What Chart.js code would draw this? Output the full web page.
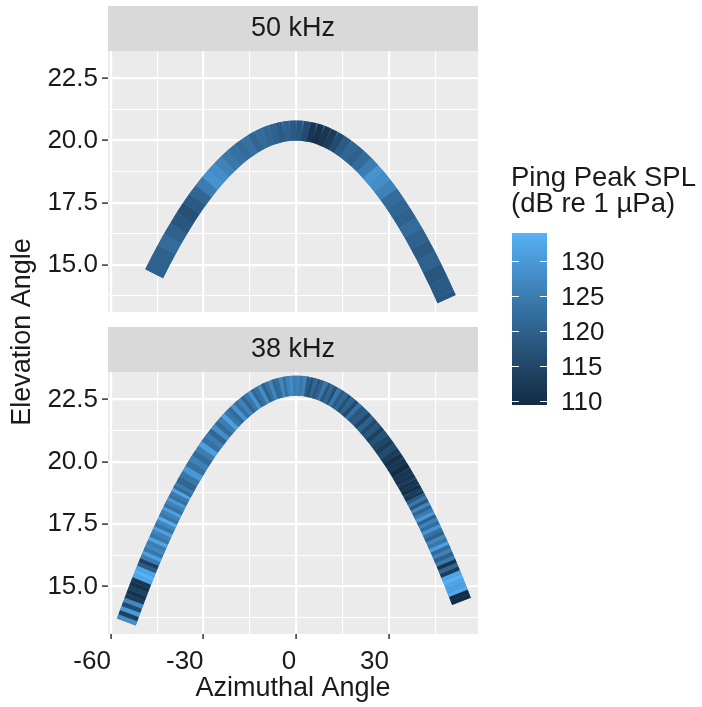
<!DOCTYPE html>
<html>
<head>
<meta charset="utf-8">
<title>Ping Peak SPL</title>
<script src="https://cdn.jsdelivr.net/npm/chart.js@4.4.1/dist/chart.umd.min.js"></script>
<style>
  html, body { margin: 0; padding: 0; background: #ffffff; }
  #wrap { position: relative; width: 702px; height: 707px; }
  #wrap canvas { position: absolute; left: 0; top: 0; }
</style>
</head>
<body>
<div id="wrap">
  <canvas id="panel50" width="702" height="707"></canvas>
  <canvas id="panel38" width="702" height="707"></canvas>
</div>
<script>
// 50 kHz track: azimuth (deg), elevation (deg), peak SPL of the segment starting at each point
const azimuth50 = [-46, -44, -42, -40, -38, -36, -34, -32, -30, -28, -26, -24, -22, -20, -18, -16, -14, -12, -10, -8, -6, -4, -2,
  0, 2, 4, 6, 8, 10, 12, 14, 16, 18, 20, 22, 24, 26, 28, 30, 32, 34, 36, 38, 40, 42, 44, 46, 48, 48.7];
const elevation50 = [14.64, 15.13, 15.60, 16.05, 16.47, 16.88, 17.26, 17.62, 17.95, 18.27, 18.56, 18.83, 19.08, 19.31, 19.52,
  19.70, 19.87, 20.01, 20.13, 20.23, 20.30, 20.36, 20.39, 20.40, 20.39, 20.35, 20.30, 20.22, 20.11, 19.99, 19.84, 19.67,
  19.47, 19.26, 19.02, 18.75, 18.47, 18.16, 17.83, 17.47, 17.09, 16.69, 16.27, 15.82, 15.36, 14.86, 14.35, 13.81, 13.62];
const spl50 = [120, 120, 122, 120, 118, 117, 119, 121, 125, 129, 128, 126, 124, 123, 122, 123, 121, 122, 121, 120,
  119, 120, 119, 118, 116, 112, 111, 112, 113, 116, 119, 121, 120, 122, 125, 129, 128, 126, 122, 121,
  120, 122, 120, 119, 120, 118, 119, 118, 118];

// 38 kHz track
const azimuth38 = [-55, -54.5, -54, -53.5, -53, -52.5, -52, -51.5, -51, -50.5, -50, -49.5, -49, -48.5, -48, -47.5, -47,
  -46.5, -46, -45.5, -45, -44.5, -44, -43.5, -43, -42.5, -42, -41.5, -41, -40.5, -40, -39.5, -39, -38.5, -38, -37.5,
  -37, -36.5, -36,
  -35, -34, -33, -32, -31, -30, -29, -28, -27, -26, -25, -24, -23, -22, -21, -20, -19, -18, -17, -16, -15, -14, -13,
  -12, -11, -10, -9, -8, -7, -6, -5, -4, -3, -2, -1, 0, 1, 2, 3, 4, 5, 6, 7, 8, 9, 10, 11, 12, 13, 14, 15, 16, 17, 18,
  19, 20, 21, 22, 23, 24, 25, 26, 27, 28, 29, 30, 31, 32, 33, 34, 35,
  35.5, 36, 36.5, 37, 37.5, 38, 38.5, 39, 39.5, 40, 40.5, 41, 41.5, 42, 42.5, 43, 43.5, 44, 44.5, 45, 45.5, 46, 46.5,
  47, 47.5, 48, 48.5, 49, 49.5, 50, 50.5, 51, 51.5, 52, 52.5, 53, 53.5];
const elevation38 = [13.58, 13.75, 13.92, 14.09, 14.26, 14.42, 14.59, 14.75, 14.91, 15.07, 15.23, 15.38, 15.53, 15.69,
  15.84, 15.99, 16.14, 16.28, 16.43, 16.57, 16.71, 16.85, 16.99, 17.13, 17.26, 17.40, 17.53, 17.66, 17.79, 17.92, 18.04,
  18.17, 18.29, 18.41, 18.53, 18.65, 18.77, 18.88, 18.99,
  19.22, 19.43, 19.64, 19.85, 20.04, 20.23, 20.42, 20.60, 20.77, 20.93, 21.09, 21.25, 21.39, 21.54, 21.67, 21.80, 21.92,
  22.04, 22.15, 22.25, 22.35, 22.44, 22.52, 22.60, 22.67, 22.74, 22.80, 22.85, 22.90, 22.94, 22.97, 23.00, 23.02, 23.04,
  23.05, 23.05, 23.05, 23.04, 23.02, 23.00, 22.97, 22.94, 22.90, 22.86, 22.81, 22.75, 22.68, 22.62, 22.54, 22.46, 22.37,
  22.28, 22.18, 22.07, 21.96, 21.84, 21.72, 21.59, 21.45, 21.31, 21.16, 21.01, 20.85, 20.68, 20.51, 20.33, 20.15, 19.96,
  19.76, 19.56, 19.35,
  19.24, 19.14, 19.03, 18.92, 18.80, 18.69, 18.57, 18.46, 18.34, 18.22, 18.10, 17.97, 17.85, 17.72, 17.60, 17.47, 17.34,
  17.20, 17.07, 16.93, 16.80, 16.66, 16.52, 16.38, 16.24, 16.09, 15.95, 15.80, 15.65, 15.50, 15.35, 15.20, 15.04, 14.88,
  14.73, 14.57, 14.41];
const spl38 = [128, 114, 130, 116, 127, 113, 111, 114, 111, 112, 132, 134, 132, 119, 114, 125, 131, 124, 127, 125,
  132, 124, 126, 131, 124, 127, 133, 124, 126, 131, 123, 126, 130, 123, 125, 132, 122, 125, 121,
  124, 130, 123, 126, 122, 125, 131, 123, 125, 121, 128, 122, 125, 131, 124, 122, 129, 123, 126, 121,
  124, 129, 121, 123, 128, 120, 123, 127, 121, 122, 127, 123, 126, 128, 125, 126,
  124, 126, 119, 117, 121, 118, 120, 124, 118, 121, 117, 124, 119, 121, 117, 120, 116, 123, 118, 119,
  115, 120, 116, 118, 114, 117, 115, 113, 116, 113, 111, 112, 110, 112, 111,
  113, 111, 112, 110, 113, 112, 119, 124, 118, 127, 121, 125, 130, 120, 126, 122, 129, 123, 120, 127,
  124, 131, 122, 126, 120, 125, 112, 121, 113, 132, 134, 132, 131, 133, 110, 109.5, 109.5];

// axis breaks: gridlines at every value, labels on the major ones
const xBreaks = [-60, -45, -30, -15, 0, 15, 30, 45];
const xMajor = [-60, -30, 0, 30];
const yBreaks = [13.75, 15, 16.25, 17.5, 18.75, 20, 21.25, 22.5];
const yMajor = [15, 17.5, 20, 22.5];
const legendBreaks = [110, 115, 120, 125, 130];
const panelNames = ['50 kHz', '38 kHz'];

const FONT = '"Liberation Sans", Arial, sans-serif';
const INK = '#1a1a1a';

// colour scale: #132B43 -> #56B1F7, interpolated in CIELAB like ggplot
function toLinear(c) {
  c /= 255;
  return c <= 0.04045 ? c / 12.92 : Math.pow((c + 0.055) / 1.055, 2.4);
}
function fromLinear(c) {
  c = c <= 0.0031308 ? 12.92 * c : 1.055 * Math.pow(c, 1 / 2.4) - 0.055;
  return Math.round(Math.max(0, Math.min(1, c)) * 255);
}
function rgbToLab(rgb) {
  const [r, g, b] = rgb.map(toLinear);
  const x = (0.4124564 * r + 0.3575761 * g + 0.1804375 * b) / 0.95047;
  const y = 0.2126729 * r + 0.7151522 * g + 0.0721750 * b;
  const z = (0.0193339 * r + 0.1191920 * g + 0.9503041 * b) / 1.08883;
  const f = t => t > 216 / 24389 ? Math.cbrt(t) : (24389 / 27 * t + 16) / 116;
  const fx = f(x), fy = f(y), fz = f(z);
  return [116 * fy - 16, 500 * (fx - fy), 200 * (fy - fz)];
}
function labToRgb(lab) {
  const fy = (lab[0] + 16) / 116, fx = fy + lab[1] / 500, fz = fy - lab[2] / 200;
  const inv = t => t * t * t > 216 / 24389 ? t * t * t : (116 * t - 16) / (24389 / 27);
  const x = inv(fx) * 0.95047, y = inv(fy), z = inv(fz) * 1.08883;
  const r = 3.2404542 * x - 1.5371385 * y - 0.4985314 * z;
  const g = -0.9692660 * x + 1.8760108 * y + 0.0415560 * z;
  const b = 0.0556434 * x - 0.2040259 * y + 1.0572252 * z;
  return [r, g, b].map(fromLinear);
}
const lowLab = rgbToLab([19, 43, 67]);
const highLab = rgbToLab([86, 177, 247]);
const allSpl = spl50.concat(spl38);
const splMin = Math.min(...allSpl);
const splMax = Math.max(...allSpl);

function splColour(v) {
  const t = (v - splMin) / (splMax - splMin);
  const rgb = labToRgb(lowLab.map((c, i) => c + (highLab[i] - c) * t));
  return 'rgb(' + rgb.join(',') + ')';
}

// grey panel background + facet strip
const facetPanel = {
  id: 'facetPanel',
  beforeDraw(chart, args, opts) {
    const { ctx, chartArea: a } = chart;
    ctx.save();
    ctx.fillStyle = '#ebebeb';
    ctx.fillRect(a.left, a.top, a.right - a.left, a.bottom - a.top);
    ctx.fillStyle = '#d9d9d9';
    ctx.fillRect(a.left, a.top - 45, a.right - a.left, 45);
    ctx.fillStyle = INK;
    ctx.font = '27px ' + FONT;
    ctx.textAlign = 'center';
    ctx.textBaseline = 'middle';
    ctx.fillText(opts.label, (a.left + a.right) / 2, a.top - 22);
    ctx.restore();
  }
};

// continuous colour bar legend
const colourBar = {
  id: 'colourBar',
  afterDraw(chart) {
    const ctx = chart.ctx;
    const left = 512, top = 233, w = 35, h = 172;
    ctx.save();
    for (let i = 0; i < h; i++) {
      ctx.fillStyle = splColour(splMax - (i + 0.5) / h * (splMax - splMin));
      ctx.fillRect(left, top + i, w, 1);
    }
    ctx.strokeStyle = '#ffffff';
    ctx.lineWidth = 1;
    ctx.fillStyle = INK;
    ctx.font = '26px ' + FONT;
    ctx.textAlign = 'left';
    ctx.textBaseline = 'middle';
    legendBreaks.forEach(v => {
      const y = Math.round(top + (splMax - v) / (splMax - splMin) * h) + 0.5;
      ctx.beginPath();
      ctx.moveTo(left, y); ctx.lineTo(left + 7, y);
      ctx.moveTo(left + w - 7, y); ctx.lineTo(left + w, y);
      ctx.stroke();
      ctx.fillText(String(v), 561, y + 1);
    });
    ctx.font = '27.5px ' + FONT;
    ctx.textBaseline = 'alphabetic';
    ctx.fillText('Ping Peak SPL', 511, 186);
    ctx.fillText('(dB re 1 \u00b5Pa)', 511, 212);
    ctx.restore();
  }
};

// shared y title across both facets
const yTitle = {
  id: 'yTitle',
  afterDraw(chart) {
    const ctx = chart.ctx;
    ctx.save();
    ctx.translate(23, 332);
    ctx.rotate(-Math.PI / 2);
    ctx.fillStyle = INK;
    ctx.font = '27px ' + FONT;
    ctx.textAlign = 'center';
    ctx.textBaseline = 'middle';
    ctx.fillText('Elevation Angle', 0, 0);
    ctx.restore();
  }
};

function facetChart(id, azimuth, elevation, spl, name, bottom, padding, plugins) {
  const isMajorX = c => c.tick && xMajor.includes(c.tick.value);
  const isMajorY = c => c.tick && yMajor.includes(c.tick.value);
  const points = azimuth.map((x, i) => ({ x: x, y: elevation[i] }));
  const track = {
    borderWidth: 20,
    borderCapStyle: 'butt',
    borderJoinStyle: 'miter',
    pointRadius: 0,
    tension: 0,
    fill: false,
  };
  return new Chart(id, {
    type: 'line',
    data: {
      datasets: [
        // coloured segments, one per ping
        Object.assign({
          data: points,
          borderColor: splColour(spl[0]),
          segment: { borderColor: c => splColour(spl[c.p0DataIndex]) },
        }, track),
        // plain stroke underneath so the joints on the bend don't open up
        Object.assign({ data: points, borderColor: splColour(126) }, track),
      ],
    },
    options: {
      responsive: false,
      animation: false,
      devicePixelRatio: 1,
      layout: { padding: padding },
      plugins: {
        legend: { display: false },
        tooltip: { enabled: false },
        facetPanel: { label: name },
      },
      scales: {
        x: {
          type: 'linear',
          min: -60.95,
          max: 58.86,
          afterBuildTicks: s => { s.ticks = xBreaks.map(v => ({ value: v })); },
          afterFit: s => { s.height = bottom ? 73 : 0; },
          border: { display: false },
          grid: {
            color: '#ffffff',
            lineWidth: c => isMajorX(c) ? 2.2 : 1.1,
            drawTicks: bottom,
            tickLength: 5,
            tickWidth: 1.5,
            tickColor: c => isMajorX(c) ? '#333333' : 'rgba(0,0,0,0)',
          },
          ticks: {
            display: bottom,
            autoSkip: false,
            maxRotation: 0,
            align: 'end',
            padding: 7,
            color: INK,
            font: { family: FONT, size: 26 },
            callback: v => xMajor.includes(v) ? String(v) : '',
          },
          title: {
            display: bottom,
            text: 'Azimuthal Angle',
            color: INK,
            font: { family: FONT, size: 27 },
            padding: { top: 0, bottom: 2 },
          },
        },
        y: {
          type: 'linear',
          min: 13.1,
          max: 23.6,
          afterBuildTicks: s => { s.ticks = yBreaks.map(v => ({ value: v })); },
          afterFit: s => { s.width = 108; },
          border: { display: false },
          grid: {
            color: '#ffffff',
            lineWidth: c => isMajorY(c) ? 2.2 : 1.1,
            tickLength: 6,
            tickWidth: 1.5,
            tickColor: c => isMajorY(c) ? '#333333' : 'rgba(0,0,0,0)',
          },
          ticks: {
            autoSkip: false,
            padding: 4,
            color: INK,
            font: { family: FONT, size: 26 },
            callback: v => yMajor.includes(v) ? v.toFixed(1) : '',
          },
        },
      },
    },
    plugins: plugins,
  });
}

facetChart('panel50', azimuth50, elevation50, spl50, panelNames[0], false,
  { top: 51, right: 224, bottom: 395, left: 0 }, [facetPanel, colourBar]);
facetChart('panel38', azimuth38, elevation38, spl38, panelNames[1], true,
  { top: 372, right: 224, bottom: 0, left: 0 }, [facetPanel, yTitle]);
</script>
</body>
</html>
